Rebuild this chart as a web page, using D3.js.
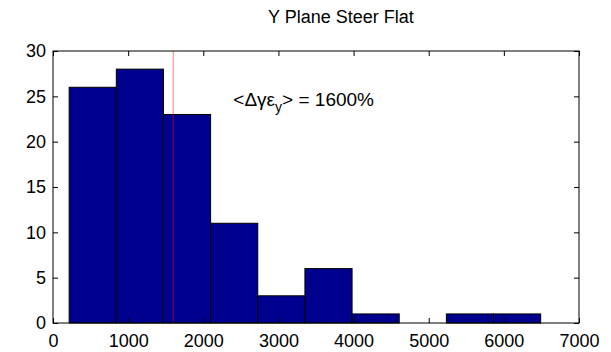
<!DOCTYPE html>
<html>
<head>
<meta charset="utf-8">
<script src="https://cdn.jsdelivr.net/npm/d3@7"></script>
<style>
  html, body { margin: 0; padding: 0; background: #fff; }
  svg { display: block; font-family: "Liberation Sans", Arial, sans-serif; }
</style>
</head>
<body>
<svg id="chart" width="611" height="352"></svg>
<script>
// Histogram bin edges and counts
const binEdges = [215, 842.5, 1470, 2097.5, 2725, 3352.5, 3980, 4607.5, 5235, 5862.5, 6490];
const binCounts = [26, 28, 23, 11, 3, 6, 1, 0, 1, 1];
const meanValue = 1600;
const xTicks = [0, 1000, 2000, 3000, 4000, 5000, 6000, 7000];
const yTicks = [0, 5, 10, 15, 20, 25, 30];
const titleText = "Y Plane Steer Flat";

const svg = d3.select("#chart");
const m = { left: 53, right: 579, top: 51, bottom: 323 };

const x = d3.scaleLinear().domain([0, 7000]).range([m.left, m.right]);
const y = d3.scaleLinear().domain([0, 30]).range([m.bottom, m.top]);

const bins = binCounts.map((c, i) => ({ x0: binEdges[i], x1: binEdges[i + 1], count: c }));

// bars
svg.append("g").selectAll("rect").data(bins).join("rect")
  .attr("x", d => x(d.x0))
  .attr("y", d => y(d.count))
  .attr("width", d => x(d.x1) - x(d.x0))
  .attr("height", d => y(0) - y(d.count))
  .attr("fill", "#00008f")
  .attr("stroke", "#000")
  .attr("stroke-width", 1);

// mean marker
svg.append("line")
  .attr("x1", x(meanValue)).attr("x2", x(meanValue))
  .attr("y1", y(30)).attr("y2", y(0))
  .attr("stroke", "#ff0000")
  .attr("stroke-opacity", 0.5)
  .attr("stroke-width", 1);

// axes with inward ticks on all four sides
const tickLen = 5;
const fontSize = 18;
const fmt = d3.format("d");
const axisB = d3.axisBottom(x).tickValues(xTicks).tickFormat(fmt).tickSizeInner(-tickLen).tickSizeOuter(0).tickPadding(11);
const axisT = d3.axisTop(x).tickValues(xTicks).tickSizeInner(-tickLen).tickSizeOuter(0).tickFormat("");
const axisL = d3.axisLeft(y).tickValues(yTicks).tickFormat(fmt).tickSizeInner(-tickLen).tickSizeOuter(0).tickPadding(7);
const axisR = d3.axisRight(y).tickValues(yTicks).tickSizeInner(-tickLen).tickSizeOuter(0).tickFormat("");

function style(g) {
  g.select(".domain").remove();
  g.selectAll("line").attr("stroke", "#000");
  g.selectAll("text").attr("font-size", fontSize).attr("fill", "#000")
    .attr("font-family", "'Liberation Sans', Arial, sans-serif");
}
svg.append("g").attr("transform", `translate(0,${m.bottom})`).call(axisB).call(style);
svg.append("g").attr("transform", `translate(0,${m.top})`).call(axisT).call(style);
svg.append("g").attr("transform", `translate(${m.left},0)`).call(axisL).call(style);
svg.append("g").attr("transform", `translate(${m.right},0)`).call(axisR).call(style);

// frame
svg.append("rect")
  .attr("x", m.left).attr("y", m.top)
  .attr("width", m.right - m.left).attr("height", m.bottom - m.top)
  .attr("fill", "none").attr("stroke", "#000").attr("stroke-width", 1);

// title
svg.append("text")
  .attr("x", 268).attr("y", 23)
  .attr("font-size", 18)
  .text(titleText);

// annotation
const ann = svg.append("text")
  .attr("x", x(2400)).attr("y", y(25) + 10)
  .attr("font-size", 19);
ann.append("tspan").text("<\u0394\u03b3\u03b5");
ann.append("tspan").attr("font-size", 14).attr("dy", 6).text("y");
ann.append("tspan").attr("dy", -6).text("> = " + meanValue + "%");
</script>
</body>
</html>
